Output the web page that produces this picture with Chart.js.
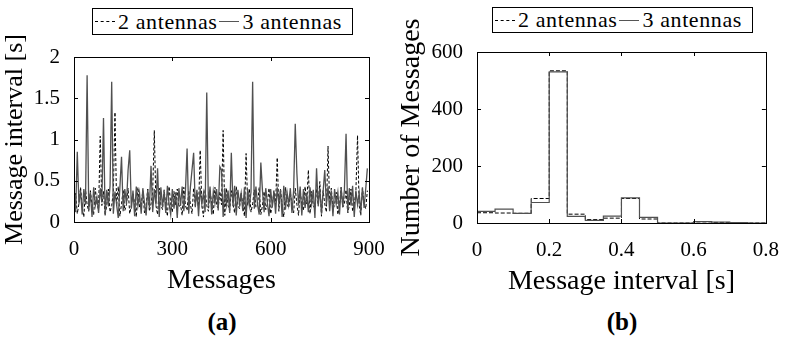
<!DOCTYPE html>
<html>
<head>
<meta charset="utf-8">
<script src="https://cdn.jsdelivr.net/npm/chart.js@4/dist/chart.umd.min.js"></script>
<style>
  body { margin: 0; width: 786px; height: 341px; background: #fff; position: relative; overflow: hidden; font-family: "Liberation Serif", serif; }
  canvas { position: absolute; top: 0; }
  #left { left: 0; }
  #right { left: 395px; }
  .legend { position: absolute; border: 1px solid #000; background: #fff; display: flex; align-items: center; font-size: 22px; letter-spacing: 0.6px; box-sizing: border-box; padding-left: 2px; z-index: 2; }
  .dash { display: inline-block; width: 20px; border-top: 1.5px dashed #000; margin-right: 3px; }
  .solid { display: inline-block; width: 20px; border-top: 1.5px solid #555; margin: 0 3px 0 2px; }
  .sub { position: absolute; top: 308px; font-weight: bold; font-size: 25px; width: 60px; text-align: center; }
</style>
</head>
<body>
<canvas id="left" width="393" height="300"></canvas>
<canvas id="right" width="391" height="300"></canvas>
<div class="legend" style="left:92px;top:8px;width:261px;height:27px"><span class="dash"></span>2 antennas<span class="solid"></span>3 antennas</div>
<div class="legend" style="left:492px;top:7px;width:261px;height:26px"><span class="dash"></span>2 antennas<span class="solid"></span>3 antennas</div>
<div class="sub" style="left:192px">(a)</div>
<div class="sub" style="left:592px">(b)</div>
<script>
// (a) message interval [s], one value every 5 messages
const messageStep = 5;
const interval2Antennas = [
  0.20,0.35,0.10,0.22,0.42,0.18,0.06,0.40,0.21,0.13,
  0.38,0.20,0.09,0.41,0.22,0.15,1.04,0.20,0.37,0.08,
  0.21,0.40,0.12,0.20,0.36,1.33,0.19,0.43,0.07,0.22,
  0.39,0.14,0.21,0.41,0.10,0.20,0.35,0.22,0.06,0.42,
  0.18,0.21,0.38,0.11,0.20,0.40,0.13,0.22,0.36,1.11,
  0.20,0.09,0.41,0.21,0.15,0.39,0.20,0.07,0.43,0.22,
  0.12,0.37,0.20,0.40,0.18,0.21,0.08,0.42,0.20,0.14,
  0.38,0.22,0.10,0.41,0.20,0.36,0.16,0.87,0.21,0.06,
  0.40,0.20,0.13,0.39,0.22,0.09,0.42,0.20,0.17,0.37,
  0.21,1.11,0.08,0.41,0.20,0.14,0.38,0.22,0.11,0.43,
  0.20,0.16,0.36,0.21,0.07,0.83,0.20,0.40,0.12,0.22,
  0.39,0.18,0.21,0.42,0.09,0.20,0.37,0.15,0.22,0.41,
  0.10,0.20,0.38,0.21,0.78,0.13,0.40,0.20,0.06,0.42,
  0.22,0.17,0.36,0.20,0.11,0.41,0.21,0.08,0.39,0.20,
  0.14,0.43,0.22,0.63,0.10,0.37,0.20,0.16,0.40,0.21,
  0.49,0.07,0.38,0.22,0.12,0.92,0.20,0.41,0.15,0.21,
  0.36,0.09,0.20,0.42,0.18,0.22,0.39,0.11,0.20,0.40,
  0.13,0.21,0.37,1.05,0.20,0.08,0.41,0.22,0.16,0.38
];
const interval3Antennas = [
  0.41,0.12,0.85,0.22,0.38,0.09,0.40,0.21,1.78,0.15,
  0.36,0.06,0.42,0.20,0.30,0.11,0.41,0.24,1.26,0.08,
  0.39,0.19,0.44,1.70,0.10,0.37,0.21,0.05,0.42,0.79,
  0.13,0.40,0.22,0.63,0.87,0.16,0.38,0.07,0.43,0.20,
  0.35,0.10,0.41,0.23,0.08,0.39,0.18,0.68,0.12,0.40,
  0.21,0.65,0.06,0.42,0.19,0.37,0.11,0.44,0.22,0.09,
  0.40,0.16,0.36,0.05,0.41,0.20,0.43,0.13,0.38,0.89,
  0.10,0.42,0.63,0.84,0.18,0.39,0.07,0.41,0.22,0.35,
  0.12,1.57,0.20,0.43,0.09,0.37,0.23,0.40,0.14,0.67,
  0.63,0.06,0.41,0.21,0.38,0.11,0.84,0.19,0.44,0.08,
  0.39,0.22,0.35,0.13,0.42,0.05,0.40,0.20,0.36,1.70,
  0.16,0.43,0.21,0.09,0.72,0.38,0.12,0.41,0.23,0.07,
  0.40,0.18,0.37,0.10,0.42,0.22,0.39,0.06,0.44,0.15,
  0.36,0.21,0.41,0.11,0.38,1.19,0.59,0.20,0.43,0.08,
  0.40,0.17,0.35,0.12,0.42,0.22,0.39,0.05,0.65,0.19,
  0.41,0.10,0.37,0.63,0.21,0.43,0.13,0.38,0.07,0.40,
  0.22,0.36,0.09,0.42,0.18,0.39,1.07,0.11,0.41,0.20,
  0.44,0.06,0.38,0.21,0.35,0.12,0.42,0.17,0.40,0.65
];

// (b) histogram, bins of 0.05 s
const binEdges = [0,0.05,0.1,0.15,0.2,0.25,0.3,0.35,0.4,0.45,0.5,0.55,0.6,0.65,0.7,0.75,0.8];
const count2Antennas = [36,35,34,86,534,31,12,17,86,14,0,0,4,2,1,0];
const count3Antennas = [41,49,34,72,530,23,9,24,88,20,0,0,5,3,1,0];

const serif = '"Liberation Serif", serif';
const grey = '#505050';

const boxPlugin = {
  id: 'box',
  afterDatasetsDraw(chart) {
    const {ctx, chartArea: a, scales: {x, y}} = chart;
    ctx.save();
    ctx.strokeStyle = '#000';
    ctx.lineWidth = 1;
    ctx.strokeRect(Math.round(a.left) + 0.5, Math.round(a.top) + 0.5, Math.round(a.width), Math.round(a.height));
    ctx.beginPath();
    x.ticks.forEach(t => {
      const px = Math.round(x.getPixelForValue(t.value)) + 0.5;
      ctx.moveTo(px, a.bottom); ctx.lineTo(px, a.bottom - 4);
      ctx.moveTo(px, a.top); ctx.lineTo(px, a.top + 4);
    });
    y.ticks.forEach(t => {
      const py = Math.round(y.getPixelForValue(t.value)) + 0.5;
      ctx.moveTo(a.left, py); ctx.lineTo(a.left + 4, py);
      ctx.moveTo(a.right, py); ctx.lineTo(a.right - 4, py);
    });
    ctx.stroke();
    ctx.restore();
  }
};

const tickFont = {family: serif, size: 21};
const plainLabel = v => String(Math.round(v * 10) / 10);

function axes(xOpt, yOpt, xTitle, yTitle, yWidth, yTitleSize) {
  return {
    x: {
      type: 'linear',
      min: xOpt.min, max: xOpt.max,
      grid: {display: false},
      border: {display: false},
      ticks: {stepSize: xOpt.step, color: '#000', font: tickFont, padding: 7, maxRotation: 0, callback: plainLabel},
      title: {display: true, text: xTitle, color: '#000', font: {family: serif, size: 28}, padding: 0},
      afterFit: s => { s.height = 75; }
    },
    y: {
      min: yOpt.min, max: yOpt.max,
      grid: {display: false},
      border: {display: false},
      ticks: {stepSize: yOpt.step, color: '#000', font: tickFont, padding: 6, callback: plainLabel},
      title: {display: true, text: yTitle, color: '#000', font: {family: serif, size: yTitleSize}, padding: 0},
      afterFit: s => { s.width = yWidth; }
    }
  };
}

function commonOptions(scales, padding) {
  return {
    responsive: false,
    animation: false,
    devicePixelRatio: 1,
    layout: {padding: padding},
    plugins: {legend: {display: false}, tooltip: {enabled: false}},
    elements: {point: {radius: 0}, line: {tension: 0}},
    scales: scales
  };
}

new Chart(document.getElementById('left'), {
  type: 'line',
  data: {
    datasets: [
      {
        label: '2 antennas',
        data: interval2Antennas.map((v, i) => ({x: i * messageStep, y: v})),
        borderColor: '#000',
        borderWidth: 1,
        borderDash: [3, 2],
        order: 2
      },
      {
        label: '3 antennas',
        data: interval3Antennas.map((v, i) => ({x: i * messageStep, y: v})),
        borderColor: grey,
        borderWidth: 1.3,
        order: 1
      }
    ]
  },
  options: commonOptions(
    axes({min: 0, max: 900, step: 300}, {min: 0, max: 2, step: 0.5}, 'Messages', 'Message interval [s]', 74, 26),
    {top: 57, bottom: 3, left: 0, right: 24}),
  plugins: [boxPlugin]
});

function steps(counts) {
  const pts = counts.map((c, i) => ({x: binEdges[i], y: c}));
  pts.push({x: binEdges[binEdges.length - 1], y: counts[counts.length - 1]});
  return pts;
}

new Chart(document.getElementById('right'), {
  type: 'line',
  data: {
    datasets: [
      {
        label: '2 antennas',
        data: steps(count2Antennas),
        borderColor: '#000',
        borderWidth: 1,
        borderDash: [4, 2],
        stepped: 'before',
        order: 2
      },
      {
        label: '3 antennas',
        data: steps(count3Antennas),
        borderColor: grey,
        borderWidth: 1.2,
        stepped: 'before',
        order: 1
      }
    ]
  },
  options: commonOptions(
    axes({min: 0, max: 0.8, step: 0.2}, {min: 0, max: 600, step: 200}, 'Message interval [s]', 'Number of Messages', 82, 28),
    {top: 52, bottom: 2, left: 0, right: 16}),
  plugins: [boxPlugin]
});
</script>
</body>
</html>
